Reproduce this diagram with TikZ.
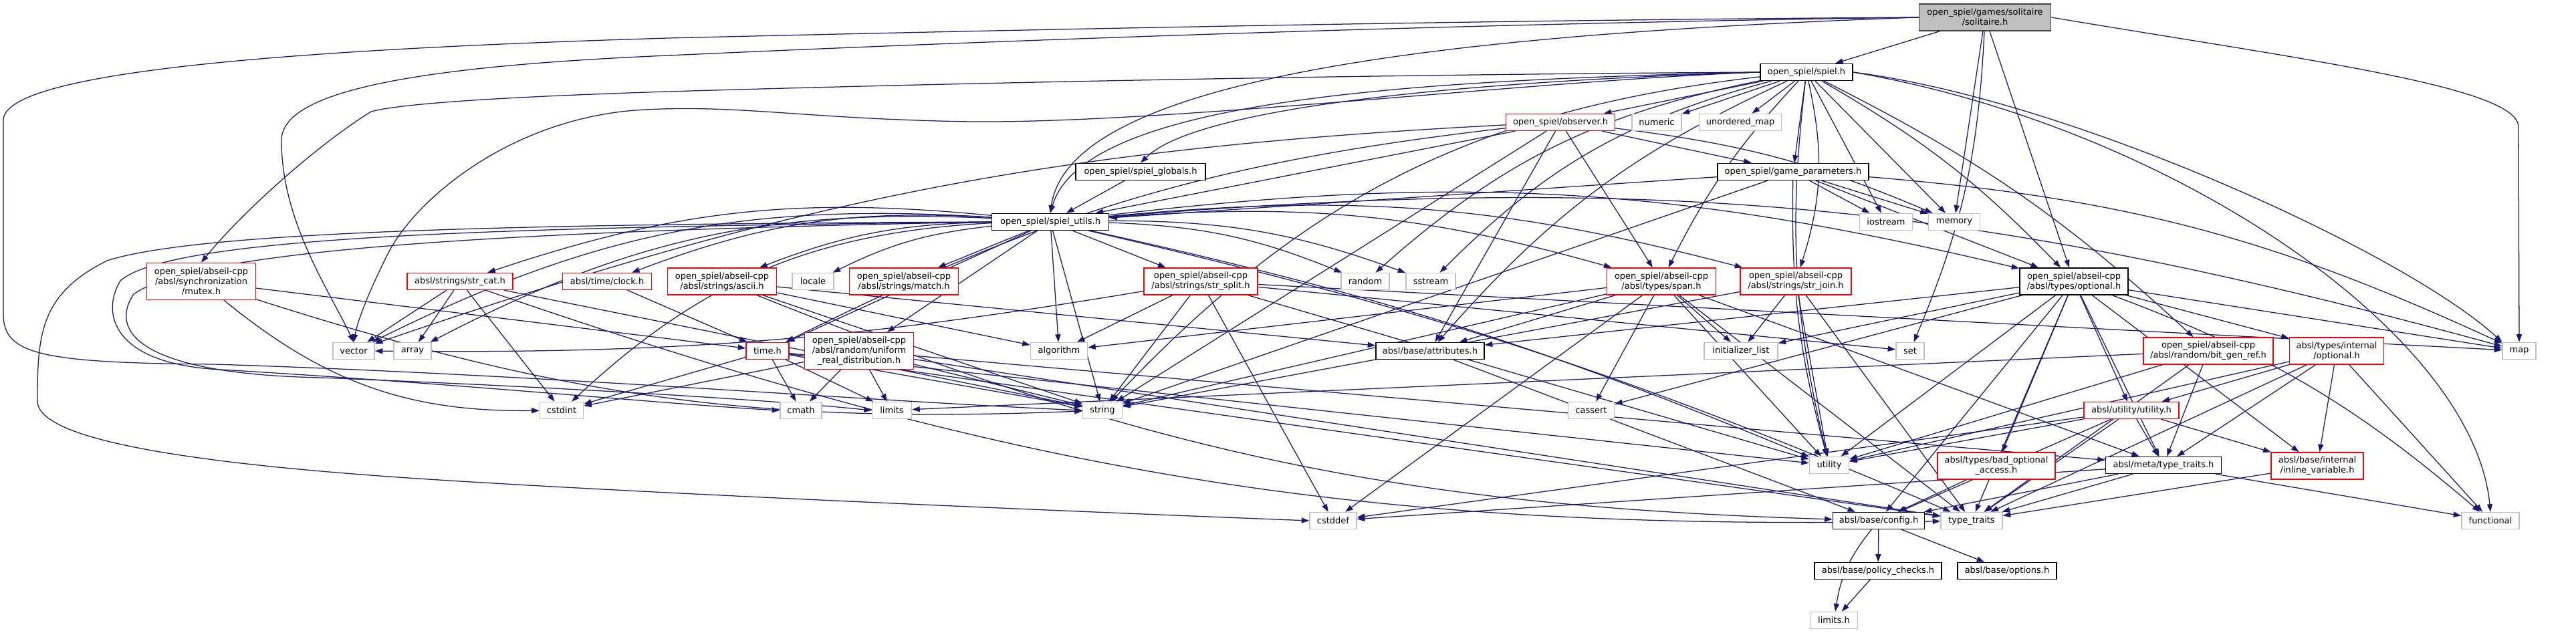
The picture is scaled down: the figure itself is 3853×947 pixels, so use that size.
\documentclass[tikz,border=0pt]{standalone}
\usepackage{fontspec}
\setmainfont{DejaVu Sans}
\usetikzlibrary{arrows.meta,backgrounds}
\definecolor{depedge}{HTML}{191970}
\definecolor{truncred}{HTML}{FF0000}
\definecolor{sysgray}{HTML}{BFBFBF}
\definecolor{rootfill}{HTML}{BFBFBF}
\definecolor{rootdraw}{HTML}{404040}
\tikzset{
  hdr/.style  ={rectangle, fill=white, line width=0.2pt, inner sep=0.25pt,
                align=center, font=\fontsize{1.85}{2.15}\selectfont},
  rootf/.style={hdr, draw=rootdraw, fill=rootfill},
  docf/.style ={hdr, draw=black},
  redf/.style ={hdr, draw=truncred},
  sysf/.style ={hdr, draw=sysgray},
  % one include edge
  dep/.style  ={draw=depedge, line width=0.18pt,
                -{Triangle[length=1.65pt,width=1.15pt]}},
}
% name / x / y (pixels, y downwards) / width / height / kind / label
\def\headerlist{%
  sol/2969/26/197/40/rootf/{open\_spiel/games/solitaire\\/solitaire.h},
  spiel/2702/108/138/25/docf/{open\_spiel/spiel.h},
  observer/2334/183/163/25/redf/{open\_spiel/observer.h},
  numeric/2478/183/74/25/sysf/{numeric},
  umap/2603/183/123/25/sysf/{unordered\_map},
  globals/1706/257/194/25/docf/{open\_spiel/spiel\_globals.h},
  gparams/2682/257/226/25/docf/{open\_spiel/game\_parameters.h},
  utils/1571/332/175/25/docf/{open\_spiel/spiel\_utils.h},
  iostream/2821/332/79/25/sysf/{iostream},
  memory/2923/332/77/25/sysf/{memory},
  mutex/301/421/163/55/redf/{open\_spiel/abseil-cpp\\/absl/synchronization\\/mutex.h},
  strcat/688/421/158/25/redf/{absl/strings/str\_cat.h},
  clock/908/421/133/25/redf/{absl/time/clock.h},
  ascii/1080/421/163/40/redf/{open\_spiel/abseil-cpp\\/absl/strings/ascii.h},
  locale/1216/421/62/25/sysf/{locale},
  match/1352/421/163/40/redf/{open\_spiel/abseil-cpp\\/absl/strings/match.h},
  strsplit/1796/421/170/40/redf/{open\_spiel/abseil-cpp\\/absl/strings/str\_split.h},
  random/2042/421/72/25/sysf/{random},
  sstream/2140/421/74/25/sysf/{sstream},
  span/2485/421/163/40/redf/{open\_spiel/abseil-cpp\\/absl/types/span.h},
  strjoin/2686/421/166/40/redf/{open\_spiel/abseil-cpp\\/absl/strings/str\_join.h},
  optional/3102/421/162/40/docf/{open\_spiel/abseil-cpp\\/absl/types/optional.h},
  vector/529/525/62/25/sysf/{vector},
  array/617/525/56/25/sysf/{array},
  timeh/1148/525/64/25/redf/{time.h},
  uniform/1285/525/163/55/redf/{open\_spiel/abseil-cpp\\/absl/random/uniform\\\_real\_distribution.h},
  algorithm/1584/525/85/25/sysf/{algorithm},
  attributes/2139/525/162/25/docf/{absl/base/attributes.h},
  initlist/2604/525/110/25/sysf/{initializer\_list},
  set/2857/525/42/25/sysf/{set},
  bitgen/3303/525/194/40/redf/{open\_spiel/abseil-cpp\\/absl/random/bit\_gen\_ref.h},
  intopt/3495/525/141/40/redf/{absl/types/internal\\/optional.h},
  map/3768/525/50/25/sysf/{map},
  cstdint/840/614/65/25/sysf/{cstdint},
  cmath/1198/614/62/25/sysf/{cmath},
  limits/1334/614/59/25/sysf/{limits},
  string/1649/614/59/25/sysf/{string},
  cassert/2380/614/69/25/sysf/{cassert},
  abslutil/3188/614/142/25/redf/{absl/utility/utility.h},
  utility/2736/696/59/25/sysf/{utility},
  badopt/2986/697/176/40/redf/{absl/types/bad\_optional\\\_access.h},
  metatt/3236/696/173/25/docf/{absl/meta/type\_traits.h},
  inlinevar/3466/697/138/40/redf/{absl/base/internal\\/inline\_variable.h},
  cstddef/1994/779/70/25/sysf/{cstddef},
  config/2810/779/137/25/docf/{absl/base/config.h},
  typetraits/2949/779/92/25/sysf/{type\_traits},
  functional/3725/779/86/25/sysf/{functional},
  policy/2809/854/190/25/docf/{absl/base/policy\_checks.h},
  options/3002/854/148/25/docf/{absl/base/options.h},
  limitsh/2743/928/71/25/sysf/{limits.h}}
% from / to / bend
\def\deplist{%
  sol/spiel/0, sol/memory/0, sol/optional/0, sol/set/10,
  spiel/observer/0, spiel/numeric/0, spiel/umap/0, spiel/gparams/0,
  spiel/iostream/0, spiel/memory/0, spiel/random/-15, spiel/sstream/-15,
  spiel/span/-8, spiel/strjoin/15, spiel/optional/8, spiel/bitgen/8,
  spiel/utility/-10, spiel/string/-20, spiel/attributes/-12,
  observer/gparams/0, observer/utils/0, observer/memory/8, observer/span/0,
  observer/timeh/-10, observer/vector/-8, observer/string/0, observer/attributes/0,
  globals/utils/0,
  gparams/utils/0, gparams/iostream/0, gparams/memory/0, gparams/map/10,
  gparams/string/0, gparams/utility/-8, gparams/optional/0,
  utils/strcat/-12, utils/clock/-12, utils/ascii/-10, utils/locale/-10,
  utils/match/0, utils/strsplit/0, utils/random/10, utils/sstream/10,
  utils/span/10, utils/strjoin/10, utils/optional/10, utils/vector/-15,
  utils/array/-15, utils/cstdint/-20, utils/timeh/0, utils/uniform/0,
  utils/algorithm/0, utils/string/0, utils/utility/5, utils/typetraits/5,
  utils/map/10,
  mutex/cstdint/-20, mutex/string/-10, mutex/timeh/0,
  strcat/vector/0, strcat/array/0, strcat/cstdint/0, strcat/string/0,
  strcat/typetraits/-10,
  clock/timeh/0,
  ascii/algorithm/0, ascii/string/0, ascii/attributes/0, ascii/config/-10,
  strsplit/vector/5, strsplit/algorithm/0, strsplit/string/0,
  strsplit/cstddef/0, strsplit/utility/0, strsplit/set/0, strsplit/map/0,
  span/algorithm/0, span/attributes/0, span/cstddef/0, span/cassert/0,
  span/initlist/0, span/utility/0, span/metatt/0, span/typetraits/0,
  span/string/0,
  strjoin/initlist/0, strjoin/string/0, strjoin/utility/0,
  strjoin/typetraits/0,
  optional/cassert/0, optional/functional/10, optional/initlist/0,
  optional/typetraits/0, optional/utility/0, optional/attributes/0,
  optional/inlinevar/0, optional/metatt/0, optional/badopt/0,
  optional/intopt/0, optional/abslutil/0, optional/config/0, optional/map/0,
  timeh/cstdint/0, timeh/cmath/0, timeh/limits/0, timeh/string/0,
  timeh/utility/0, timeh/typetraits/0,
  uniform/cmath/0, uniform/cstdint/0, uniform/limits/0,
  uniform/typetraits/0, uniform/metatt/0, uniform/string/0,
  attributes/config/0,
  bitgen/limits/0, bitgen/typetraits/0, bitgen/utility/0, bitgen/metatt/0,
  intopt/functional/0, intopt/typetraits/0, intopt/utility/0,
  intopt/inlinevar/0, intopt/metatt/0, intopt/abslutil/0,
  abslutil/cstddef/0, abslutil/typetraits/0, abslutil/utility/0,
  abslutil/config/0, abslutil/inlinevar/0, abslutil/metatt/0,
  badopt/config/0,
  metatt/cstddef/0, metatt/functional/0, metatt/typetraits/0, metatt/config/0,
  inlinevar/typetraits/0,
  config/limitsh/-15, config/policy/0, config/options/0,
  policy/limitsh/0}

\begin{document}
\begin{tikzpicture}[x=0.005cm, y=0.005cm]
\useasboundingbox (0,0) rectangle (3853,-947);
\foreach \n/\x/\y/\w/\h/\kind/\lab in \headerlist
  {\node[\kind, minimum width=\w*0.005cm, minimum height=\h*0.005cm]
     (\n) at (\x,-\y) {\lab};}
\begin{scope}[on background layer]
  \fill[white] (0,0) rectangle (3853,-947);
  \foreach \a/\b/\bd in \deplist {\draw[dep] (\a) to[bend left=\bd] (\b);}
  % --- long edges routed round the left and right margins ---
  \draw[dep] (sol.west) .. controls (2200,-50) and (1600,-110) .. (utils.north);
  \draw[dep] (spiel.west) .. controls (2100,-120) and (1620,-150) .. (utils.north);
  \draw[dep] (spiel.west) .. controls (2100,-125) and (1780,-170) .. (globals.north);
  \draw[dep] (sol.west) .. controls (2200,-35) and (1500,-60) .. (1000,-83)
     .. controls (600,-100) and (421,-140) .. (421,-210)
     .. controls (421,-330) and (490,-430) .. (vector.north);
  \draw[dep] (sol.west) .. controls (2200,-30) and (1500,-45) .. (1000,-57)
     .. controls (400,-75) and (5,-110) .. (5,-180) -- (5,-470)
     .. controls (5,-530) and (60,-543) .. (320,-545)
     .. controls (800,-560) and (1300,-600) .. (string.west);
  \draw[dep] (spiel.west) .. controls (2000,-112) and (1400,-125) .. (1000,-137)
     .. controls (750,-145) and (600,-155) .. (555,-167)
     .. controls (470,-220) and (360,-320) .. (mutex.north);
  \draw[dep] (spiel.west) .. controls (2300,-120) and (1750,-185) .. (1450,-182)
     .. controls (1200,-178) and (1100,-155) .. (950,-165)
     .. controls (760,-180) and (620,-300) .. (580,-380)
     .. controls (550,-440) and (535,-480) .. (vector.north);
  \draw[dep] (utils.west) .. controls (800,-335) and (300,-345) .. (160,-390)
     .. controls (60,-440) and (56,-500) .. (56,-600)
     .. controls (56,-660) and (300,-695) .. (640,-717)
     .. controls (1000,-740) and (1600,-765) .. (cstddef.west);
  \draw[dep] (utils.west) .. controls (800,-340) and (260,-350) .. (180,-420)
     .. controls (150,-470) and (170,-545) .. (330,-553)
     .. controls (700,-575) and (1000,-605) .. (cmath.west);
  \draw[dep] (utils.west) .. controls (800,-345) and (300,-370) .. (200,-440)
     .. controls (160,-500) and (220,-560) .. (480,-565)
     .. controls (850,-580) and (1150,-598) .. (limits.west);
  \draw[dep] (sol.east) .. controls (3450,-90) and (3767,-130) .. (3767,-190)
     -- (map.north);
  \draw[dep] (spiel.east) .. controls (3250,-190) and (3700,-500) .. (functional.north);
  \draw[dep] (spiel.east) .. controls (3100,-150) and (3600,-380) .. (map.north west);
\end{scope}
\end{tikzpicture}
\end{document}
